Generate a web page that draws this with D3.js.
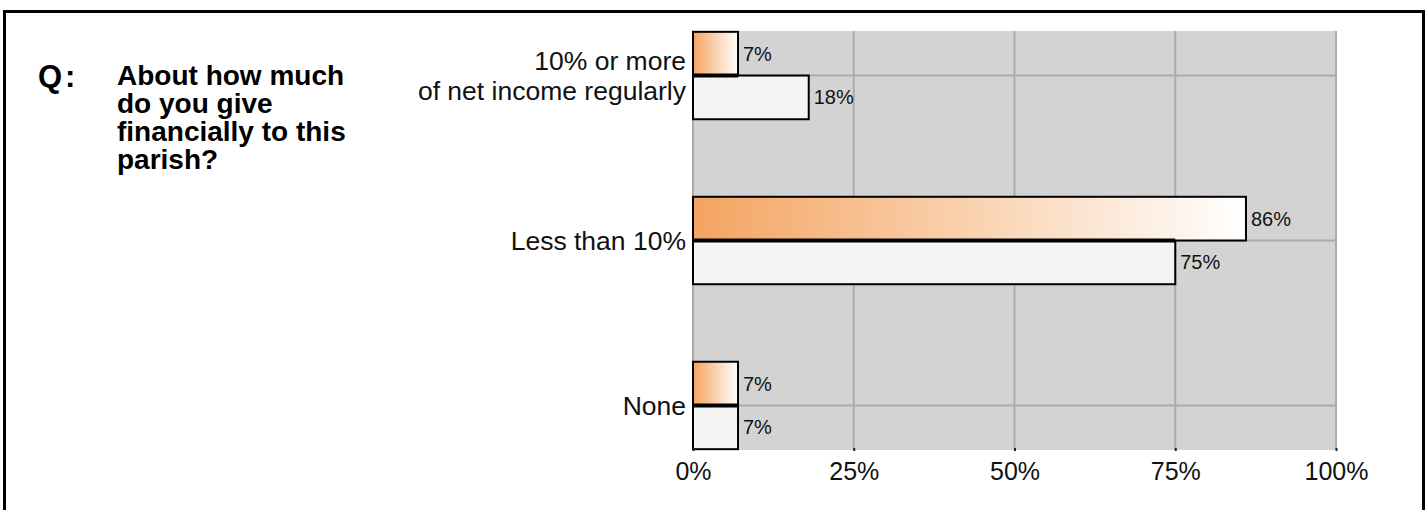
<!DOCTYPE html>
<html>
<head>
<meta charset="utf-8">
<script src="https://cdn.jsdelivr.net/npm/d3@7"></script>
<style>
  body { margin: 0; background: #fff; }
  svg { display: block; font-family: "Liberation Sans", Arial, sans-serif; }
</style>
</head>
<body>
<div id="chart"></div>
<script>
// chart data
const categories = ["10% or more\nof net income regularly", "Less than 10%", "None"];
const seriesA = [7, 86, 7];   // orange (top bar of each pair)
const seriesB = [18, 75, 7];  // light grey (bottom bar)
const xTicks = [0, 25, 50, 75, 100];
const questionLines = ["About how much", "do you give", "financially to this", "parish?"];

const width = 1426, height = 510;
const plot = {left: 693, right: 1336, top: 31, bottom: 450};

const svg = d3.select("#chart").append("svg")
    .attr("width", width)
    .attr("height", height);

const defs = svg.append("defs");
const grad = defs.append("linearGradient")
    .attr("id", "orangeGrad")
    .attr("x1", "0%").attr("x2", "100%")
    .attr("y1", "0%").attr("y2", "0%");
grad.append("stop").attr("offset", "0%").attr("stop-color", "#f4a460");
grad.append("stop").attr("offset", "100%").attr("stop-color", "#ffffff");

// outer frame (no bottom edge visible)
svg.append("path")
    .attr("d", `M4.5,${height + 5} V11.5 H1423.5 V${height + 5}`)
    .attr("fill", "none")
    .attr("stroke", "#000")
    .attr("stroke-width", 3);

// question text
svg.append("text")
    .attr("x", 38)
    .attr("y", 87)
    .attr("font-size", 31)
    .attr("font-weight", "bold")
    .attr("letter-spacing", 3)
    .text("Q:");

svg.append("text")
    .attr("font-size", 28)
    .attr("font-weight", "bold")
    .selectAll("tspan")
    .data(questionLines)
    .enter()
    .append("tspan")
        .attr("x", 117)
        .attr("y", (d, i) => 85 + i * 28)
        .text(d => d);

// scales
const x = d3.scaleLinear()
    .domain([0, 100])
    .range([plot.left, plot.right]);

const y = d3.scaleBand()
    .domain(categories)
    .range([plot.top, plot.bottom])
    .paddingInner(0.47)
    .paddingOuter(0.005);

const sub = d3.scaleBand()
    .domain(["a", "b"])
    .range([0, y.bandwidth()]);

// plot background
svg.append("rect")
    .attr("x", plot.left)
    .attr("y", plot.top)
    .attr("width", plot.right - plot.left)
    .attr("height", plot.bottom - plot.top)
    .attr("fill", "#d3d3d3");

// grid lines
svg.append("g")
    .selectAll("line")
    .data(xTicks)
    .enter()
    .append("line")
        .attr("x1", d => x(d))
        .attr("x2", d => x(d))
        .attr("y1", plot.top)
        .attr("y2", plot.bottom)
        .attr("stroke", "#ababab")
        .attr("stroke-width", 2);

svg.append("g")
    .selectAll("line")
    .data(categories)
    .enter()
    .append("line")
        .attr("x1", plot.left)
        .attr("x2", plot.right)
        .attr("y1", d => y(d) + y.bandwidth() / 2)
        .attr("y2", d => y(d) + y.bandwidth() / 2)
        .attr("stroke", "#ababab")
        .attr("stroke-width", 2);

// bars
const rows = categories.map((c, i) => ({cat: c, a: seriesA[i], b: seriesB[i]}));

const groups = svg.append("g")
    .selectAll("g")
    .data(rows)
    .enter()
    .append("g")
        .attr("transform", d => `translate(0,${y(d.cat)})`);

groups.append("rect")
    .attr("x", x(0))
    .attr("y", sub("b"))
    .attr("width", d => x(d.b) - x(0))
    .attr("height", sub.bandwidth())
    .attr("fill", "#f4f4f4")
    .attr("stroke", "#000")
    .attr("stroke-width", 2);

groups.append("rect")
    .attr("x", x(0))
    .attr("y", sub("a"))
    .attr("width", d => x(d.a) - x(0))
    .attr("height", sub.bandwidth())
    .attr("fill", "url(#orangeGrad)")
    .attr("stroke", "#000")
    .attr("stroke-width", 2);

// thicker divider between the two bars
groups.append("line")
    .attr("x1", x(0))
    .attr("x2", d => x(Math.min(d.a, d.b)))
    .attr("y1", sub("b"))
    .attr("y2", sub("b"))
    .attr("stroke", "#000")
    .attr("stroke-width", 4);

// value labels
groups.append("text")
    .attr("x", d => x(d.a) + 5)
    .attr("y", sub("a") + sub.bandwidth() / 2)
    .attr("dy", "0.35em")
    .attr("font-size", 20)
    .attr("fill", "#111")
    .text(d => d.a + "%");

groups.append("text")
    .attr("x", d => x(d.b) + 5)
    .attr("y", sub("b") + sub.bandwidth() / 2)
    .attr("dy", "0.35em")
    .attr("font-size", 20)
    .attr("fill", "#111")
    .text(d => d.b + "%");

// category labels
const catLabels = svg.append("g")
    .selectAll("text")
    .data(categories)
    .enter()
    .append("text")
        .attr("text-anchor", "end")
        .attr("font-size", 26.5)
        .attr("fill", "#111");

catLabels.each(function(d) {
    const lines = d.split("\n");
    const cy = y(d) + y.bandwidth() / 2;
    const lineH = 30;
    d3.select(this).selectAll("tspan")
        .data(lines)
        .enter()
        .append("tspan")
            .attr("x", plot.left - 7)
            .attr("y", (l, i) => cy + (i - (lines.length - 1) / 2) * lineH)
            .attr("dy", "0.35em")
            .text(l => l);
});

// x axis
const xAxis = d3.axisBottom(x)
    .tickValues(xTicks)
    .tickFormat(d => d + "%")
    .tickSize(3)
    .tickPadding(11);

const axisG = svg.append("g")
    .attr("transform", `translate(0,${plot.bottom - 2})`)
    .call(xAxis);

axisG.select(".domain").remove();
axisG.selectAll(".tick line").attr("stroke", "#222").attr("stroke-width", 2);
axisG.selectAll(".tick text")
    .attr("font-size", 25)
    .attr("font-family", "Liberation Sans, Arial, sans-serif")
    .attr("fill", "#111");
</script>
</body>
</html>
